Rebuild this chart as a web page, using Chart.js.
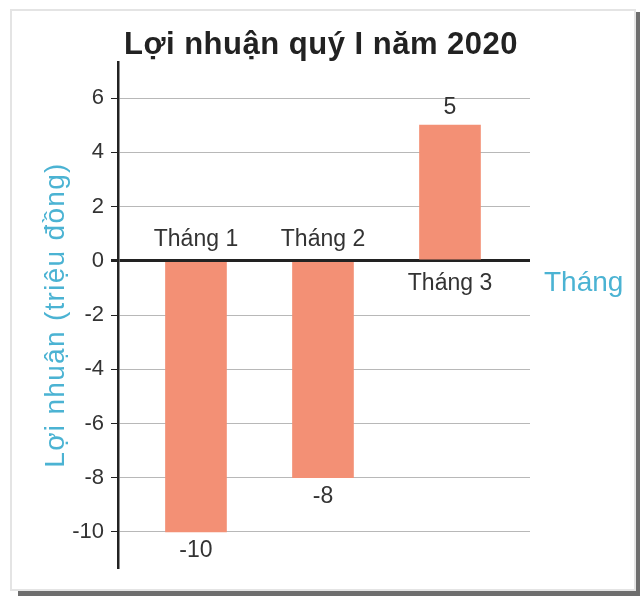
<!DOCTYPE html>
<html lang="vi">
    <head>
        <meta charset="UTF-8" />
        <title>Lợi nhuận quý I năm 2020</title>
        <script src="https://cdn.jsdelivr.net/npm/chart.js"></script>
        <style>
            html, body { margin: 0; padding: 0; background: #fff; }
            #wrap { width: 640px; height: 596px; }
        </style>
    </head>
    <body>
        <div id="wrap"><canvas id="myChart" width="640" height="596"></canvas></div>
        <script>
            // chart data
            const months = ["Tháng 1", "Tháng 2", "Tháng 3"];
            const profit = [-10, -8, 5];
            const yTicks = [-10, -8, -6, -4, -2, 0, 2, 4, 6];
            const chartTitle = "Lợi nhuận quý I năm 2020";
            const yTitle = "Lợi nhuận (triệu đồng)";
            const xTitle = "Tháng";

            const FONT = "'Liberation Sans', Arial, sans-serif";
            const CYAN = "#4bb3d3";

            // frame around the figure
            const framePlugin = {
                id: "frame",
                beforeDraw(chart) {
                    const c = chart.ctx;
                    c.save();
                    c.fillStyle = "#fff";
                    c.fillRect(0, 0, 640, 596);
                    c.strokeStyle = "#e4e4e4";
                    c.lineWidth = 2;
                    c.strokeRect(11, 10, 624, 580);
                    c.fillStyle = "#6e6e6e";
                    c.fillRect(636, 12, 4, 584);
                    c.fillRect(18, 591, 622, 5);
                    c.restore();
                },
            };

            // titles, month names and values next to bars
            const labelPlugin = {
                id: "barLabels",
                afterDatasetsDraw(chart) {
                    const c = chart.ctx;
                    const y = chart.scales.y;
                    const area = chart.chartArea;
                    const meta = chart.getDatasetMeta(0);
                    const zero = y.getPixelForValue(0);
                    c.save();
                    c.textAlign = "center";
                    c.textBaseline = "middle";

                    c.fillStyle = "#222";
                    c.font = "bold 31px " + FONT;
                    c.letterSpacing = "0.5px";
                    c.fillText(chartTitle, 321, 45);
                    c.letterSpacing = "0px";

                    c.fillStyle = "#333";
                    c.font = "23px " + FONT;
                    meta.data.forEach((bar, i) => {
                        const v = profit[i];
                        const end = y.getPixelForValue(v);
                        if (v < 0) {
                            c.fillText(months[i], bar.x, zero - 21);
                            c.fillText(String(v), bar.x, end + 19);
                        } else {
                            c.fillText(months[i], bar.x, zero + 23);
                            c.fillText(String(v), bar.x, end - 18);
                        }
                    });

                    c.fillStyle = CYAN;
                    c.font = "28px " + FONT;
                    c.textAlign = "left";
                    c.fillText(xTitle, 544, zero + 23);

                    c.translate(56, (area.top + area.bottom) / 2);
                    c.rotate(-Math.PI / 2);
                    c.textAlign = "center";
                    c.font = "28px " + FONT;
                    c.letterSpacing = "1.3px";
                    c.fillText(yTitle, 0, 0);
                    c.restore();
                },
            };

            const ctx = document.getElementById("myChart").getContext("2d");
            const myChart = new Chart(ctx, {
                type: "bar",
                data: {
                    datasets: [
                        {
                            data: profit.map((v, i) => ({ x: i + 1, y: v })),
                            backgroundColor: "#f39075",
                            barThickness: 61,
                        },
                    ],
                },
                options: {
                    responsive: false,
                    animation: false,
                    layout: { padding: { top: 62, right: 110, bottom: 28, left: 0 } },
                    plugins: {
                        legend: { display: false },
                        tooltip: { enabled: false },
                    },
                    scales: {
                        x: {
                            type: "linear",
                            display: false,
                            offset: false,
                            min: 0.386,
                            max: 3.63,
                        },
                        y: {
                            min: -11.33,
                            max: 7.33,
                            afterBuildTicks: (scale) => {
                                scale.ticks = yTicks.map((v) => ({ value: v }));
                            },
                            afterFit: (scale) => {
                                scale.width = 118;
                            },
                            border: { color: "#222", width: 2.5 },
                            grid: {
                                color: (c) => (c.tick && c.tick.value === 0 ? "#222" : "#b8b8b8"),
                                lineWidth: (c) => (c.tick && c.tick.value === 0 ? 3 : 1),
                                tickColor: "#222",
                                tickLength: 7,
                            },
                            ticks: {
                                color: "#333",
                                padding: 7,
                                font: { family: FONT, size: 22 },
                            },
                        },
                    },
                },
                plugins: [framePlugin, labelPlugin],
            });
        </script>
    </body>
</html>
